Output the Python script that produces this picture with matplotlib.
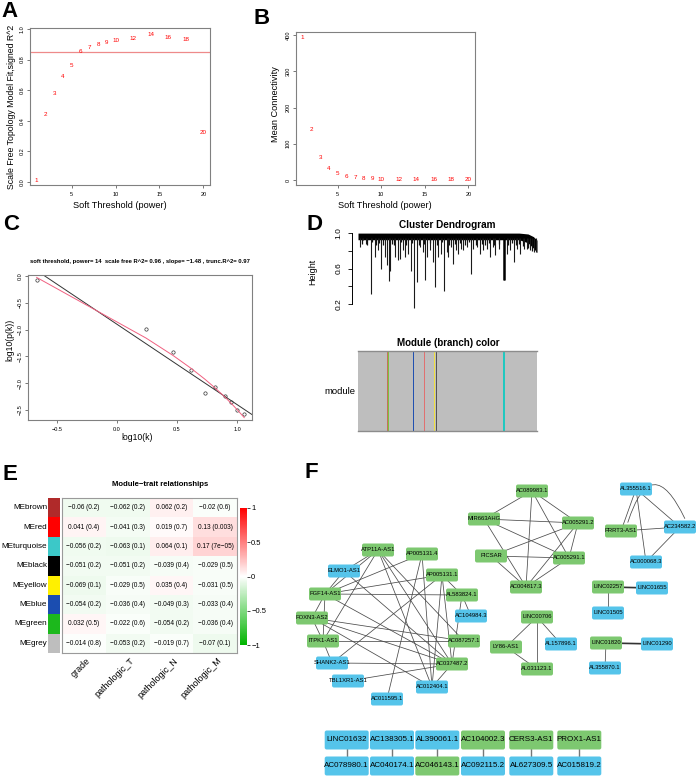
import matplotlib
matplotlib.use('Agg')
import matplotlib.pyplot as plt
import numpy as np
from matplotlib.colors import LinearSegmentedColormap
from matplotlib.patches import FancyBboxPatch, Rectangle, FancyArrowPatch

plt.rcParams['font.family'] = ['Liberation Sans', 'DejaVu Sans']

W, H = 699, 778

# ---- A / B : soft-threshold scan ----
powers = [1, 2, 3, 4, 5, 6, 7, 8, 9, 10, 12, 14, 16, 18, 20]
signed_r2 = [0.01, 0.44, 0.58, 0.69, 0.76, 0.85, 0.88, 0.90, 0.91, 0.925,
             0.935, 0.965, 0.943, 0.932, 0.32]
mean_k = [393, 140, 62, 31, 18, 9, 6, 4, 3, 2.5, 1.5, 1.0, 0.7, 0.5, 0.4]
r2_cut = 0.85

# ---- C : scale free fit at power 14 ----
log_k = [-0.67, 0.242, 0.467, 0.617, 0.73, 0.817, 0.90, 0.95, 1.0, 1.06]
log_pk = [-0.075, -0.99, -1.42, -1.75, -2.19, -2.07, -2.23, -2.36, -2.5, -2.58]
c_title = ('soft threshold, power= 14  scale free R^2= 0.96 , slope= \u22121.48 , '
           'trunc.R^2= 0.97')

# ---- D : dendrogram (leaf fraction, merge height) ----
spike_pos = [0.013, 0.028, 0.043, 0.071, 0.093, 0.112, 0.131, 0.150, 0.163, 0.172,
             0.181, 0.206, 0.221, 0.234, 0.249, 0.262, 0.280, 0.295, 0.314, 0.327,
             0.346, 0.361, 0.374, 0.387, 0.402, 0.417, 0.430, 0.449, 0.465, 0.480,
             0.495, 0.505, 0.520, 0.533, 0.548, 0.561, 0.576, 0.589, 0.607, 0.630,
             0.645, 0.664, 0.682, 0.701, 0.720, 0.738, 0.753, 0.766, 0.785, 0.817,
             0.832, 0.850, 0.873, 0.888, 0.907, 0.925, 0.944, 0.963, 0.981, 0.994]
spike_h = [0.844, 0.92, 0.882, 0.310, 0.730, 0.806, 0.596, 0.730, 0.634, 0.455,
           0.577, 0.730, 0.691, 0.710, 0.806, 0.730, 0.768, 0.577, 0.158, 0.444,
           0.844, 0.787, 0.470, 0.730, 0.806, 0.672, 0.387, 0.730, 0.768, 0.349,
           0.787, 0.730, 0.844, 0.653, 0.806, 0.768, 0.825, 0.806, 0.844, 0.543,
           0.825, 0.844, 0.768, 0.806, 0.825, 0.730, 0.844, 0.749, 0.825, 0.470,
           0.768, 0.806, 0.672, 0.825, 0.768, 0.825, 0.825, 0.806, 0.787, 0.787]
# short leaves hanging under the dense top block
short_pos = [0.02, 0.05, 0.08, 0.10, 0.12, 0.14, 0.19, 0.20, 0.24, 0.27, 0.30, 0.34,
             0.37, 0.40, 0.44, 0.47, 0.51, 0.54, 0.57, 0.60, 0.62, 0.66, 0.69, 0.71,
             0.73, 0.76, 0.79, 0.84, 0.86, 0.88, 0.90, 0.92, 0.95, 0.97]
short_h = [0.88, 0.87, 0.90, 0.86, 0.89, 0.87, 0.88, 0.86, 0.90, 0.87, 0.89, 0.86,
           0.88, 0.89, 0.87, 0.90, 0.86, 0.88, 0.89, 0.87, 0.90, 0.86, 0.88, 0.87,
           0.89, 0.86, 0.88, 0.87, 0.89, 0.86, 0.88, 0.85, 0.83, 0.80]
band_x = [0.0, 0.90, 0.95, 0.98, 1.0]
band_top = [1.0, 1.0, 0.99, 0.96, 0.92]
band_bottom = [0.925, 0.925, 0.89, 0.83, 0.78]
module_names = ['brown', 'green', 'blue', 'red', 'yellow', 'black', 'turquoise']
module_start = [0.163, 0.170, 0.309, 0.370, 0.426, 0.437, 0.809]
module_width = [0.005, 0.005, 0.005, 0.005, 0.005, 0.005, 0.011]

# ---- E : module-trait relationships ----
modules = ['MEbrown', 'MEred', 'MEturquoise', 'MEblack', 'MEyellow', 'MEblue',
           'MEgreen', 'MEgrey']
me_colors = ['#B02A2A', '#FF0000', '#3CC8C8', '#000000', '#FFF000', '#1B4DB0',
             '#1CB81C', '#BEBEBE']
traits = ['grade', 'pathologic_T', 'pathologic_N', 'pathologic_M']
cor = [[-0.06, -0.062, 0.062, -0.02],
       [0.041, -0.041, 0.019, 0.13],
       [-0.056, -0.063, 0.064, 0.17],
       [-0.051, -0.051, -0.039, -0.029],
       [-0.069, -0.029, 0.035, -0.031],
       [-0.054, -0.036, -0.049, -0.033],
       [0.032, -0.022, -0.054, -0.036],
       [-0.014, -0.053, -0.019, -0.07]]
pval = [['0.2', '0.2', '0.2', '0.6'],
        ['0.4', '0.3', '0.7', '0.003'],
        ['0.2', '0.1', '0.1', '7e\u221205'],
        ['0.2', '0.2', '0.4', '0.5'],
        ['0.1', '0.5', '0.4', '0.5'],
        ['0.2', '0.4', '0.3', '0.4'],
        ['0.5', '0.6', '0.2', '0.4'],
        ['0.8', '0.2', '0.7', '0.1']]

# ---- F : co-expression network ----
green_nodes = ['AC089983.1', 'MIR663AHG', 'AC005291.2', 'PICSAR', 'AC005291.1',
               'AC004817.3', 'PRRT3-AS1', 'LINC02257', 'ATP11A-AS1', 'AP005131.4',
               'AP005131.1', 'FGF14-AS1', 'AL583824.1', 'FOXN3-AS2', 'LINC00706',
               'ITPK1-AS1', 'AC087257.1', 'AC037487.2', 'LY86-AS1', 'AL031123.1',
               'LINC01820', 'AC046143.1', 'AC104002.3', 'CERS3-AS1', 'PROX1-AS1']
edges = [
    ('AC089983.1', 'MIR663AHG'), ('AC089983.1', 'AC005291.2'), ('AC089983.1', 'AC005291.1'),
    ('AC089983.1', 'AC004817.3'), ('MIR663AHG', 'AC005291.2'), ('MIR663AHG', 'AC005291.1'),
    ('MIR663AHG', 'AC004817.3'), ('PICSAR', 'AC005291.2'), ('PICSAR', 'AC005291.1'),
    ('PICSAR', 'AC004817.3'), ('AC005291.2', 'AC005291.1'), ('AC005291.2', 'AC004817.3'),
    ('AC005291.1', 'AC004817.3'),
    ('AL355516.1', 'PRRT3-AS1'), ('AL355516.1', 'AC000068.3'), ('AL355516.1', 'AC234582.2'),
    ('PRRT3-AS1', 'AC234582.2'), ('AC234582.2', 'AC000068.3'),
    ('LINC02257', 'LINC01505'), ('LINC01820', 'AL355870.1'),
    ('LINC00706', 'LY86-AS1'), ('LINC00706', 'AL157896.1'), ('LINC00706', 'AL031123.1'),
    ('LY86-AS1', 'AL031123.1'),
    ('ATP11A-AS1', 'ELMO1-AS1'), ('ATP11A-AS1', 'FGF14-AS1'), ('ATP11A-AS1', 'ITPK1-AS1'),
    ('ATP11A-AS1', 'AC037487.2'), ('ATP11A-AS1', 'AC012404.1'), ('ATP11A-AS1', 'AC087257.1'),
    ('AP005131.4', 'FGF14-AS1'), ('AP005131.4', 'AC012404.1'), ('AP005131.4', 'AC011595.1'),
    ('ELMO1-AS1', 'FGF14-AS1'), ('ELMO1-AS1', 'AC037487.2'),
    ('AP005131.1', 'FGF14-AS1'), ('AP005131.1', 'SHANK2-AS1'), ('AP005131.1', 'AL583824.1'),
    ('AP005131.1', 'AC037487.2'), ('AP005131.1', 'AC012404.1'),
    ('FGF14-AS1', 'AL583824.1'), ('FGF14-AS1', 'FOXN3-AS2'), ('FGF14-AS1', 'ITPK1-AS1'),
    ('FGF14-AS1', 'AC037487.2'), ('AL583824.1', 'AC104984.3'), ('AL583824.1', 'AC037487.2'),
    ('FOXN3-AS2', 'ITPK1-AS1'), ('FOXN3-AS2', 'AC087257.1'), ('FOXN3-AS2', 'AC037487.2'),
    ('FOXN3-AS2', 'AC012404.1'), ('ITPK1-AS1', 'AC087257.1'), ('ITPK1-AS1', 'SHANK2-AS1'),
    ('SHANK2-AS1', 'AC037487.2'), ('TBL1XR1-AS1', 'AC037487.2'), ('AC012404.1', 'AC037487.2'),
]
strong_edges = [('LINC02257', 'LINC01655'), ('LINC01820', 'LINC01290')]
loop_edges = [('PRRT3-AS1', 'AC234582.2')]
pairs = [('LINC01632', 'AC078980.1'), ('AC138305.1', 'AC040174.1'),
         ('AL390061.1', 'AC046143.1'), ('AC104002.3', 'AC092115.2'),
         ('CERS3-AS1', 'AL627309.5'), ('PROX1-AS1', 'AC015819.2')]

# node layout (figure pixels)
layout = {
    'AC089983.1': (532, 491), 'MIR663AHG': (484, 519), 'AC005291.2': (578, 523),
    'PICSAR': (491, 556), 'AC005291.1': (569, 558), 'AC004817.3': (526, 587),
    'AL355516.1': (636, 489), 'PRRT3-AS1': (621, 531), 'AC234582.2': (680, 527),
    'AC000068.3': (646, 562), 'LINC02257': (608, 587), 'LINC01655': (652, 588),
    'LINC01505': (608, 613), 'ATP11A-AS1': (378, 550), 'AP005131.4': (422, 554),
    'ELMO1-AS1': (344, 571), 'AP005131.1': (442, 575), 'FGF14-AS1': (325, 594),
    'AL583824.1': (462, 595), 'AC104984.3': (471, 616), 'FOXN3-AS2': (312, 618),
    'LINC00706': (537, 617), 'ITPK1-AS1': (323, 641), 'AC087257.1': (464, 641),
    'SHANK2-AS1': (332, 663), 'AC037487.2': (452, 664), 'TBL1XR1-AS1': (348, 681),
    'AC012404.1': (432, 687), 'AC011595.1': (387, 699), 'LY86-AS1': (506, 647),
    'AL157896.1': (561, 644), 'AL031123.1': (537, 669), 'LINC01820': (606, 643),
    'LINC01290': (657, 644), 'AL355870.1': (605, 668),
}
pair_x = [346.7, 392, 437.3, 483, 531.3, 579.3]
pair_y = (740, 766)


def px_axes(left, top, right, bottom):
    return fig.add_axes([left / W, 1 - bottom / H, (right - left) / W, (bottom - top) / H])


def ftext(x, y, s, **kw):
    return fig.text(x / W, 1 - y / H, s, **kw)


def r_style(ax):
    for sp in ax.spines.values():
        sp.set_color('#808080')
        sp.set_linewidth(0.8)
    ax.tick_params(labelsize=4, length=2.2, width=0.6, color='#606060', pad=3)
    ax.tick_params(axis='y', pad=1.5)
    plt.setp(ax.get_yticklabels(), rotation=90, va='center')


fig = plt.figure(figsize=(W / 100, H / 100), dpi=100)

# ---------------- A ----------------
axA = px_axes(30, 28, 210, 185)
for p, v in zip(powers, signed_r2):
    axA.text(p, v, str(p), color='red', fontsize=4.5, ha='center', va='center')
axA.axhline(r2_cut, color='#EE8A8A', lw=0.9)
axA.set_xlim(0.24, 20.76)
axA.set_ylim(-0.02, 1.0065)
axA.set_xticks([5, 10, 15, 20])
axA.set_yticks([0, 0.2, 0.4, 0.6, 0.8, 1.0])
axA.set_yticklabels(['0.0', '0.2', '0.4', '0.6', '0.8', '1.0'])
r_style(axA)
ftext(12, 107, 'Scale Free Topology Model Fit,signed R^2', rotation=90,
      fontsize=6.3, ha='center', va='center')
ftext(120, 206, 'Soft Threshold (power)', fontsize=6.6, ha='center', va='center')

# ---------------- B ----------------
axB = px_axes(296, 32, 475, 185)
for p, v in zip(powers, mean_k):
    axB.text(p, v, str(p), color='red', fontsize=4.5, ha='center', va='center')
axB.set_xlim(0.24, 20.76)
axB.set_ylim(-13.8, 408.3)
axB.set_xticks([5, 10, 15, 20])
axB.set_yticks([0, 100, 200, 300, 400])
r_style(axB)
ftext(276, 104, 'Mean Connectivity', rotation=90, fontsize=6.6, ha='center', va='center')
ftext(385, 206, 'Soft Threshold (power)', fontsize=6.6, ha='center', va='center')

# ---------------- C ----------------
axC = px_axes(28, 275, 252, 420)
lk = np.array(log_k)
lp = np.array(log_pk)
axC.plot(lk, lp, 'o', ms=2.4, mfc='none', mec='#333333', mew=0.5)
slope, icpt = np.polyfit(lk, lp, 1)
axC.axline((0, icpt), slope=slope, color='#333333', lw=0.7)
design = np.column_stack([np.ones_like(lk), lk, 10 ** lk])
coef = np.linalg.lstsq(design, lp, rcond=None)[0]
order = np.argsort(lk)
axC.plot(lk[order], design[order] @ coef, color='#F06080', lw=0.7)
axC.set_xlim(-0.742, 1.125)
axC.set_ylim(-2.687, 0.0187)
axC.set_xticks([-0.5, 0.0, 0.5, 1.0])
axC.set_yticks([0.0, -0.5, -1.0, -1.5, -2.0, -2.5])
axC.set_xticklabels(['\u22120.5', '0.0', '0.5', '1.0'])
axC.set_yticklabels(['0.0', '\u22120.5', '\u22121.0', '\u22121.5', '\u22122.0', '\u22122.5'])
r_style(axC)
ftext(140, 261, c_title, fontsize=4.2, fontweight='bold', ha='center', va='center')
ftext(10, 340, 'log10(p(k))', rotation=90, fontsize=6.2, ha='center', va='center')
ftext(137, 438, 'log10(k)', fontsize=6.2, ha='center', va='center')

# ---------------- D ----------------
axD = px_axes(352, 225, 540, 310)
axD.fill_between(band_x, band_bottom, band_top, color='black', lw=0)
axD.vlines(short_pos, short_h, 0.95, color='#111111', lw=0.9)
axD.vlines(spike_pos, spike_h, 0.95, color='#1A1A1A', lw=0.8)
big = int(np.argmin(np.abs(np.array(spike_pos) - 0.817)))
axD.vlines(spike_pos[big], spike_h[big], 0.95, color='black', lw=1.8)
axD.set_xlim(-6 / 179, 1 + 3 / 179)
axD.set_ylim(0.1314, 1.0914)
for s in ['top', 'right', 'bottom']:
    axD.spines[s].set_visible(False)
axD.spines['left'].set_bounds(0.2, 1.0)
axD.spines['left'].set_linewidth(0.7)
axD.set_xticks([])
axD.set_yticks([0.2, 0.4, 0.6, 0.8, 1.0])
axD.set_yticklabels(['0.2', '', '0.6', '', '1.0'])
axD.tick_params(axis='y', labelsize=6, length=3, width=0.6, pad=4)
plt.setp(axD.get_yticklabels(), rotation=90, va='center')
ftext(447, 225, 'Cluster Dendrogram', fontsize=7.2, fontweight='bold', ha='center', va='center')
ftext(313, 272, 'Height', rotation=90, fontsize=6.5, ha='center', va='center')

axM = px_axes(358, 351, 537, 431)
axM.set_facecolor('#BEBEBE')
stripe_colors = {'brown': '#C8705A', 'green': '#7CC040', 'blue': '#2050B0',
                 'red': '#E07070', 'yellow': '#F0E040', 'black': '#555555',
                 'turquoise': '#20C8C0'}
for name, st, wd in zip(module_names, module_start, module_width):
    axM.axvspan(st, st + wd, color=stripe_colors[name], lw=0)
axM.set_xlim(0, 1)
axM.set_ylim(0, 1)
axM.set_xticks([])
axM.set_yticks([])
for s in ['left', 'right']:
    axM.spines[s].set_visible(False)
for s in ['top', 'bottom']:
    axM.spines[s].set_color('#8C8C8C')
    axM.spines[s].set_linewidth(1.0)
ftext(448, 343, 'Module (branch) color', fontsize=7, fontweight='bold', ha='center', va='center')
ftext(355, 392, 'module', fontsize=6.8, ha='right', va='center')

# ---------------- E ----------------
cmap = LinearSegmentedColormap.from_list('gwr', ['#00B400', '#FFFFFF', '#FF0000'])
axE = px_axes(62, 498, 237, 653)
mesh = axE.pcolormesh(np.array(cor), cmap=cmap, vmin=-1, vmax=1)
axE.set_xlim(0, len(traits))
axE.set_ylim(len(modules), 0)
for i in range(len(modules)):
    for j in range(len(traits)):
        r = cor[i][j]
        txt = ('%g' % r).replace('-', '\u2212') + ' (' + pval[i][j] + ')'
        axE.text(j + 0.5, i + 0.5, txt, fontsize=4.7, ha='center', va='center')
axE.set_xticks([])
axE.set_yticks([])
for sp in axE.spines.values():
    sp.set_color('#9A9A9A')
    sp.set_linewidth(0.8)
for j, t in enumerate(traits):
    ftext(62 + (j + 0.5) * 175 / 4 + 2, 656, t, fontsize=6.5, rotation=45,
          rotation_mode='anchor', ha='right', va='top')

axME = px_axes(48, 498, 60, 653)
for i, c in enumerate(me_colors):
    axME.add_patch(Rectangle((0, i), 1, 1, color=c, lw=0))
axME.set_xlim(0, 1)
axME.set_ylim(len(modules), 0)
axME.axis('off')
for i, m in enumerate(modules):
    ftext(47, 498 + (i + 0.5) * 155 / 8, m, fontsize=5.9, ha='right', va='center')
ftext(160, 484, 'Module\u2212trait relationships', fontsize=5.6, fontweight='bold',
      ha='center', va='center')

axCB = px_axes(240, 508, 247, 645)
cb = fig.colorbar(mesh, cax=axCB, ticks=[-1, -0.5, 0, 0.5, 1])
cb.outline.set_visible(False)
cb.ax.set_yticklabels(['\u22121', '\u22120.5', '0', '0.5', '1'])
cb.ax.tick_params(labelsize=5.5, length=2, width=0.5, pad=1)

# ---------------- F ----------------
axF = px_axes(290, 470, 699, 778)
axF.set_xlim(290, 699)
axF.set_ylim(778, 470)
axF.axis('off')
for a, b in edges:
    (x1, y1), (x2, y2) = layout[a], layout[b]
    axF.plot([x1, x2], [y1, y2], color='#4A4A4A', lw=0.55, zorder=1)
for a, b in strong_edges:
    (x1, y1), (x2, y2) = layout[a], layout[b]
    axF.plot([x1, x2], [y1, y2], color='#333333', lw=1.2, zorder=1)
for a, b in loop_edges:
    (x1, y1), (x2, y2) = layout[a], layout[b]
    arc = FancyArrowPatch((x1 + 6, y1 - 6), (x2 + 6, y2 - 6), arrowstyle='-',
                          connectionstyle='arc3,rad=-1.3', color='#4A4A4A', lw=0.55,
                          zorder=1)
    axF.add_patch(arc)

green_c, blue_c = '#7DC870', '#55C4EA'


def node(ax, name, x, y, w, h, fs):
    col = green_c if name in green_nodes else blue_c
    ax.add_patch(FancyBboxPatch((x - w / 2, y - h / 2), w, h,
                                boxstyle='round,pad=0,rounding_size=2',
                                fc=col, ec='none', zorder=2))
    ax.text(x, y, name, fontsize=fs, ha='center', va='center', zorder=3)


for name, (x, y) in layout.items():
    node(axF, name, x, y, 32, 13, 4.2)

for (top, bot), x in zip(pairs, pair_x):
    axF.plot([x, x], pair_y, color='#777777', lw=1.0, zorder=1)
    node(axF, top, x, pair_y[0], 44, 19, 5.8)
    node(axF, bot, x, pair_y[1], 44, 19, 5.8)

# panel letters
for letter, x, y in [('A', 1, 1), ('B', 254, 8), ('C', 3, 214.5), ('D', 306, 214.5),
                     ('E', 3, 463.5), ('F', 305, 461.5)]:
    ftext(x, y, letter, fontsize=16, fontweight='bold', ha='left', va='top')

fig.savefig('out.png', dpi=100)
